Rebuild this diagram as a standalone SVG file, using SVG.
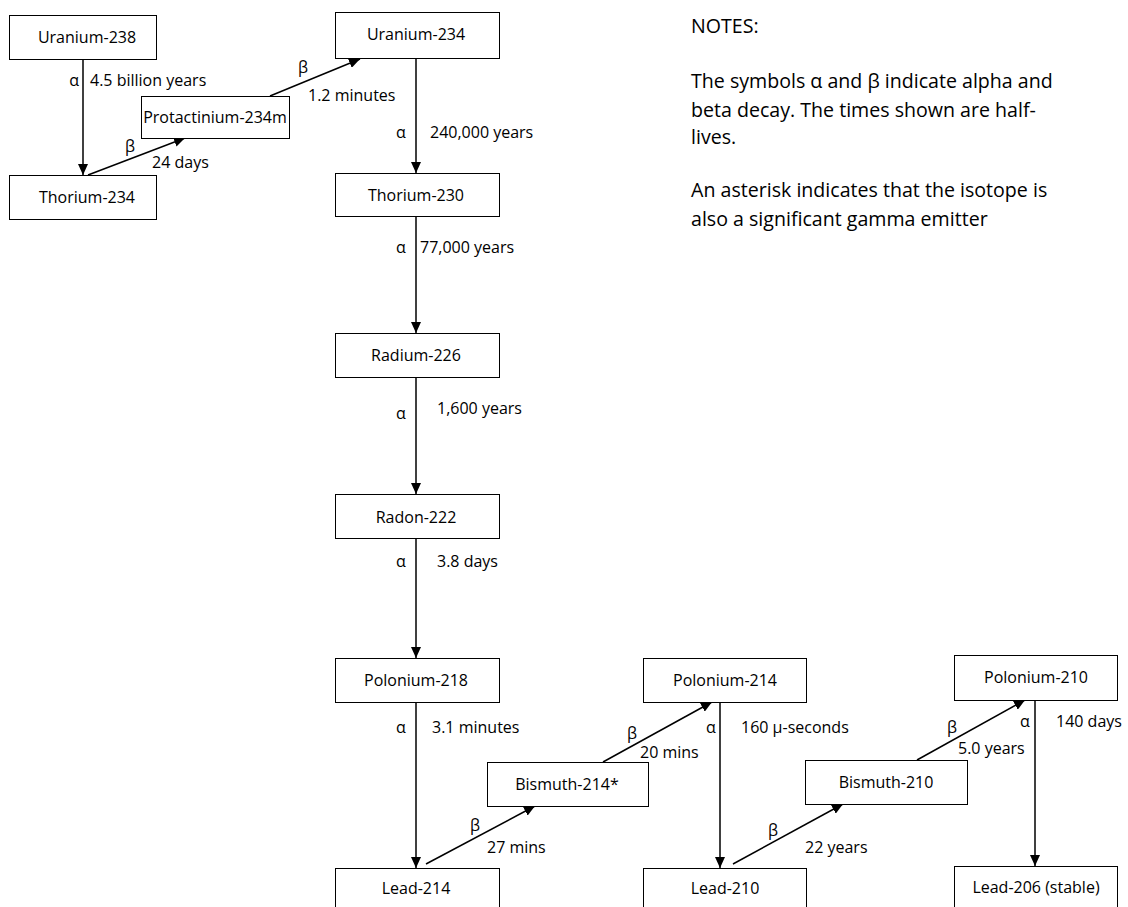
<svg xmlns="http://www.w3.org/2000/svg" width="1128" height="907" viewBox="0 0 1128 907">
<style>
.box{fill:#fff;stroke:#000;stroke-width:1}
.t{font-family:"Open Sans","Liberation Sans",sans-serif;font-size:16px;fill:#000}
.c{text-anchor:middle}
.r{text-anchor:end}
.n{font-family:"Open Sans","Liberation Sans",sans-serif;font-size:19.6px;fill:#000}
.e{stroke:#000;stroke-width:1.5;fill:none;marker-end:url(#ah)}
</style>
<defs>
<marker id="ah" markerUnits="userSpaceOnUse" markerWidth="12" markerHeight="10" refX="11" refY="5" orient="auto">
<path d="M0,0 L11,5 L0,10 Z" fill="#000"/>
</marker>
</defs>
<rect width="1128" height="907" fill="#fff"/>
<g id="connectors">
<line class="e" x1="83" y1="59" x2="83" y2="175"/>
<line class="e" x1="88" y1="175" x2="185" y2="138"/>
<line class="e" x1="270" y1="96" x2="360" y2="59"/>
<line class="e" x1="416" y1="58" x2="416" y2="173"/>
<line class="e" x1="416" y1="216" x2="416" y2="333"/>
<line class="e" x1="416" y1="377" x2="416" y2="494"/>
<line class="e" x1="416" y1="538" x2="416" y2="658"/>
<line class="e" x1="416" y1="702" x2="416" y2="868"/>
<line class="e" x1="426" y1="864" x2="535" y2="806"/>
<line class="e" x1="603" y1="762" x2="712" y2="702"/>
<line class="e" x1="720" y1="702" x2="720" y2="868"/>
<line class="e" x1="733" y1="864" x2="843" y2="804"/>
<line class="e" x1="917" y1="760" x2="1025" y2="700"/>
<line class="e" x1="1035" y1="700" x2="1035" y2="866"/>
<g class="t">
<text x="79" y="86" class="r">α</text><text x="90" y="86">4.5 billion years</text>
<text x="130" y="152" class="c">β</text><text x="152" y="168">24 days</text>
<text x="303" y="73" class="c">β</text><text x="308" y="101">1.2 minutes</text>
<text x="401" y="138" class="c">α</text><text x="430" y="138">240,000 years</text>
<text x="401" y="253" class="c">α</text><text x="420" y="253">77,000 years</text>
<text x="401" y="419" class="c">α</text><text x="437" y="414">1,600 years</text>
<text x="401" y="567" class="c">α</text><text x="437" y="567">3.8 days</text>
<text x="401" y="733" class="c">α</text><text x="432" y="733">3.1 minutes</text>
<text x="475" y="831" class="c">β</text><text x="487" y="853">27 mins</text>
<text x="632" y="739" class="c">β</text><text x="640" y="758">20 mins</text>
<text x="711" y="733" class="c">α</text><text x="741" y="733">160 μ-seconds</text>
<text x="773" y="836" class="c">β</text><text x="805" y="853">22 years</text>
<text x="952" y="733" class="c">β</text><text x="958" y="754">5.0 years</text>
<text x="1025" y="727" class="c">α</text><text x="1056" y="727">140 days</text>
</g>
</g>
<g id="u238"><rect class="box" x="9.5" y="15.5" width="147" height="44"/><text class="t c" x="87" y="43">Uranium-238</text></g>
<g id="th234"><rect class="box" x="9.5" y="175.5" width="147" height="44"/><text class="t c" x="87" y="203">Thorium-234</text></g>
<g id="pa234m"><rect class="box" x="141.5" y="96.5" width="148" height="42"/><text class="t c" x="215" y="123">Protactinium-234m</text></g>
<g id="u234"><rect class="box" x="335.5" y="12.5" width="164" height="46"/><text class="t c" x="416" y="40">Uranium-234</text></g>
<g id="th230"><rect class="box" x="335.5" y="173.5" width="164" height="43"/><text class="t c" x="416" y="201">Thorium-230</text></g>
<g id="ra226"><rect class="box" x="335.5" y="333.5" width="164" height="44"/><text class="t c" x="416" y="361">Radium-226</text></g>
<g id="rn222"><rect class="box" x="335.5" y="494.5" width="164" height="44"/><text class="t c" x="416" y="523">Radon-222</text></g>
<g id="po218"><rect class="box" x="335.5" y="658.5" width="164" height="44"/><text class="t c" x="416" y="686">Polonium-218</text></g>
<g id="pb214"><rect class="box" x="335.5" y="868.5" width="164" height="44"/><text class="t c" x="416" y="894">Lead-214</text></g>
<g id="bi214"><rect class="box" x="487.5" y="762.5" width="161" height="44"/><text class="t c" x="567" y="790">Bismuth-214*</text></g>
<g id="po214"><rect class="box" x="643.5" y="658.5" width="163" height="44"/><text class="t c" x="725" y="686">Polonium-214</text></g>
<g id="pb210"><rect class="box" x="643.5" y="868.5" width="163" height="44"/><text class="t c" x="725" y="894">Lead-210</text></g>
<g id="bi210"><rect class="box" x="805.5" y="760.5" width="162" height="44"/><text class="t c" x="886" y="788">Bismuth-210</text></g>
<g id="po210"><rect class="box" x="954.5" y="655.5" width="163" height="45"/><text class="t c" x="1036" y="683">Polonium-210</text></g>
<g id="pb206"><rect class="box" x="954.5" y="866.5" width="163" height="44"/><text class="t c" x="1036" y="893">Lead-206 (stable)</text></g>
<g id="notes" class="n">
<text x="691" y="33">NOTES:</text>
<text x="691" y="88">The symbols α and β indicate alpha and</text>
<text x="691" y="117">beta decay. The times shown are half-</text>
<text x="691" y="144">lives.</text>
<text x="691" y="197">An asterisk indicates that the isotope is</text>
<text x="691" y="226">also a significant gamma emitter</text>
</g>
</svg>
